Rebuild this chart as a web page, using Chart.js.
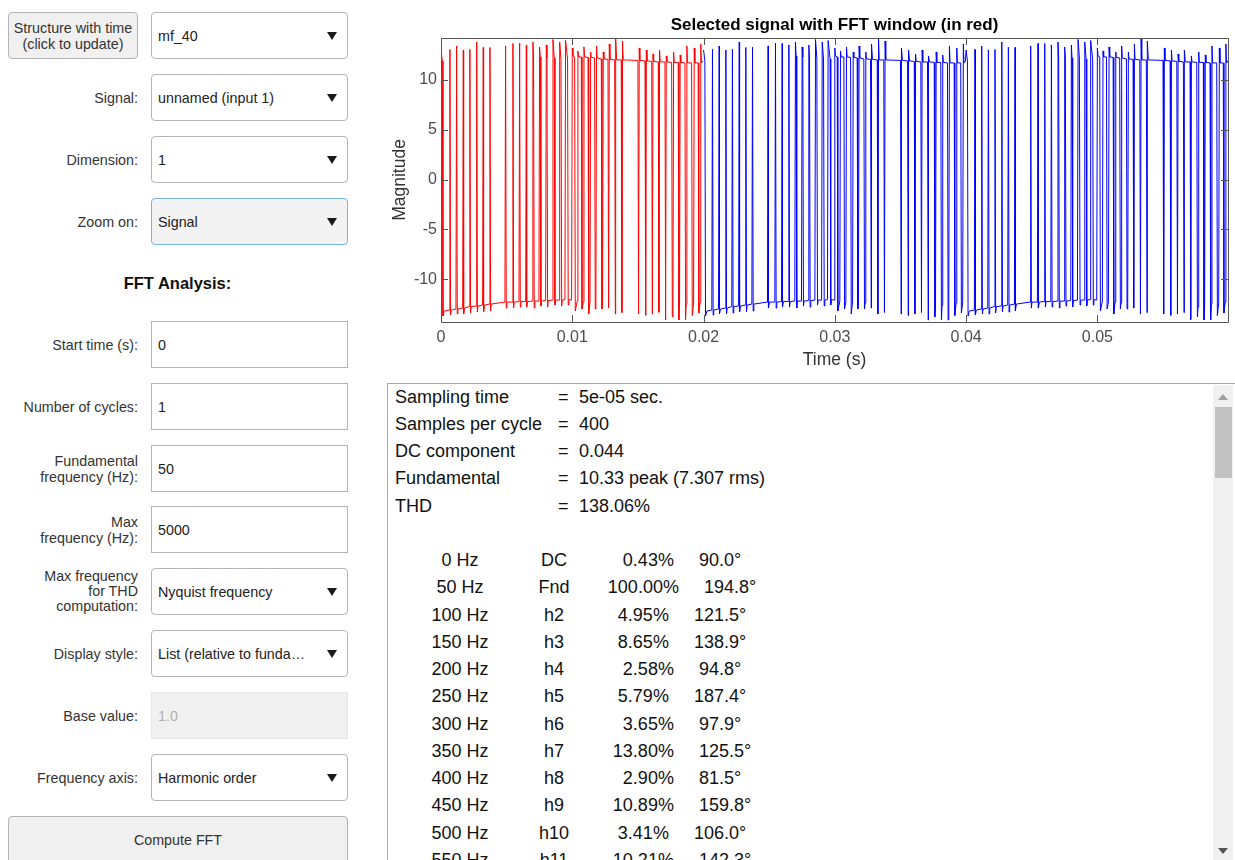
<!DOCTYPE html>
<html>
<head>
<meta charset="utf-8">
<script src="https://cdn.jsdelivr.net/npm/chart.js@4.4.1/dist/chart.umd.min.js"></script>
<style>
    body { margin: 0; width: 1235px; height: 860px; overflow: hidden; background: #fff;
           font-family: "Liberation Sans", Arial, sans-serif; position: relative; }
    .lbl { position: absolute; left: 0; width: 138px; height: 47px; display: flex; align-items: center;
           justify-content: flex-end; text-align: right; font-size: 14.3px; color: #333; line-height: 16px; }
    .box { position: absolute; left: 151px; width: 197px; height: 47px; box-sizing: border-box;
           border: 1px solid #b4b4b4; background: #fff; font-size: 14.3px; color: #222;
           display: flex; align-items: center; padding-left: 6px; }
    .dd { border-radius: 4px; }
    .dd::after { content: ''; position: absolute; right: 10px; top: 19px; border-left: 5px solid transparent;
                 border-right: 5px solid transparent; border-top: 8px solid #1a1a1a; }
    .btn { position: absolute; left: 8px; box-sizing: border-box; border: 1px solid #b4b4b4; border-radius: 4px;
           background: #f0f0f0; font-size: 14.3px; color: #333; text-align: center; line-height: 16px; }
    #chartBox { position: absolute; left: 380px; top: 0; width: 855px; height: 375px; }
    #out { position: absolute; left: 387px; top: 383px; width: 860px; height: 490px; box-sizing: border-box;
           border: 1px solid #a8a8a8; font-size: 18px; color: #111; }
    .row { position: absolute; height: 27px; line-height: 27px; white-space: nowrap; }
    .c { position: absolute; transform: translateX(-50%); white-space: nowrap; }
    #sb { position: absolute; left: 825px; top: 1px; width: 20px; height: 480px; background: #f0f0f0; }
    #thumb { position: absolute; left: 2px; top: 22px; width: 17px; height: 71px; background: #c2c2c2; }
</style>
</head>
<body>

<div class="btn" style="top:12px;width:130px;height:47px;padding-top:7px;">Structure with time<br>(click to update)</div>
<div class="box dd" style="top:12px;">mf_40</div>

<div class="lbl" style="top:74px;">Signal:</div>
<div class="box dd" style="top:74px;">unnamed (input 1)</div>

<div class="lbl" style="top:136px;">Dimension:</div>
<div class="box dd" style="top:136px;">1</div>

<div class="lbl" style="top:198px;">Zoom on:</div>
<div class="box dd" style="top:198px;background:#f3f3f3;border-color:#79b2e4;">Signal</div>

<div style="position:absolute;left:0;width:355px;top:274px;text-align:center;font-weight:bold;font-size:16.5px;color:#111;">FFT Analysis:</div>

<div class="lbl" style="top:321px;">Start time (s):</div>
<div class="box" style="top:321px;">0</div>

<div class="lbl" style="top:383px;">Number of cycles:</div>
<div class="box" style="top:383px;">1</div>

<div class="lbl" style="top:445px;">Fundamental<br>frequency (Hz):</div>
<div class="box" style="top:445px;">50</div>

<div class="lbl" style="top:506px;">Max<br>frequency (Hz):</div>
<div class="box" style="top:506px;">5000</div>

<div class="lbl" style="top:568px;line-height:15px;">Max frequency<br>for THD<br>computation:</div>
<div class="box dd" style="top:568px;">Nyquist frequency</div>

<div class="lbl" style="top:630px;">Display style:</div>
<div class="box dd" style="top:630px;">List (relative to funda…</div>

<div class="lbl" style="top:692px;">Base value:</div>
<div class="box" style="top:692px;background:#f0f0f0;border-color:#e6e6e6;color:#b0b0b0;">1.0</div>

<div class="lbl" style="top:754px;">Frequency axis:</div>
<div class="box dd" style="top:754px;">Harmonic order</div>

<div class="btn" style="top:816px;width:340px;height:60px;padding-top:15px;">Compute FFT</div>

<div id="chartBox"><canvas id="sigChart" width="855" height="375"></canvas></div>

<div id="out">
    <div id="sb">
        <div style="position:absolute;left:5px;top:9px;border-left:5px solid transparent;border-right:5px solid transparent;border-bottom:6px solid #a0a0a0;"></div>
        <div id="thumb"></div>
        <div style="position:absolute;left:5px;top:463px;border-left:5px solid transparent;border-right:5px solid transparent;border-top:6px solid #555;"></div>
    </div>
</div>

<script>
// x axis in seconds; one 50 Hz cycle = 20 ms, the first one is the FFT window (red)
const cycleStarts = [0, 0.02, 0.04];
const xTickVals = [0, 0.01, 0.02, 0.03, 0.04, 0.05];
const yTickVals = [-10, -5, 0, 5, 10];

// start of each cycle (ms within cycle): on the high rail, falls to the low rail
const startT = [0, 0.1, 0.15, 0.25];
const startV = [13.0, 11.9, -13.7, -13.2];

// first half cycle: narrow positive pulses riding on the low rail
const hiT    = [0.63, 1.14, 1.65, 2.15, 2.67, 3.17, 3.68, 4.87, 5.43, 5.94, 6.45, 6.95, 7.46, 7.97, 8.48, 8.99, 9.44];
const hiW    = [0.05, 0.05, 0.05, 0.05, 0.05, 0.05, 0.05, 0.05, 0.05, 0.05, 0.05, 0.1, 0.1, 0.1, 0.15, 0.15, 0.2];
const hiPeak = [13.05, 13.4, 13.0, 13.05, 13.8, 13.25, 13.25, 13.4, 13.65, 13.65, 13.5, 13.8, 13.3, 13.5, 14.05, 13.8, 13.95];
const hiTop  = [13.0, 13.3, 12.9, 13.0, 13.6, 13.2, 13.2, 13.3, 13.5, 13.5, 13.3, 12.4, 12.3, 12.2, 12.2, 12.1, 12.1];
const hiFall = [-13.6, -13.5, -13.5, -13.4, -13.3, -13.3, -13.2, -12.9, -12.9, -12.8, -12.8, -12.9, -12.7, -12.8, -12.6, -12.7, -12.6];
const loRail = [-13.1, -13.0, -12.9, -12.75, -12.7, -12.6, -12.5, -12.3, -12.3, -12.25, -12.25, -12.2, -12.2, -12.15, -12.1, -12.1, -12.05];

// switch from low rail to high rail around 10 ms
const midT = [9.95, 10.0, 10.05];
const midV = [-12.1, 13.2, 12.4];

// second half cycle: narrow negative pulses hanging from the high rail
const loT      = [10.18, 10.69, 11.2, 11.7, 12.21, 12.72, 13.23, 13.73, 15.0, 15.54, 16.05, 16.55, 17.06, 17.57, 18.07, 18.58, 19.09, 19.59];
const loW      = [0.2, 0.15, 0.15, 0.1, 0.1, 0.05, 0.05, 0.05, 0.05, 0.05, 0.05, 0.05, 0.05, 0.1, 0.1, 0.1, 0.15, 0.15];
const loDip    = [-13.2, -13.0, -13.5, -13.0, -13.0, -12.9, -13.5, -13.35, -13.5, -13.65, -13.5, -13.35, -14.1, -13.8, -14.1, -14.1, -13.65, -13.4];
const loBottom = [-12.2, -12.3, -12.3, -12.4, -12.4, -12.9, -13.5, -13.35, -13.5, -13.6, -13.5, -13.3, -14.0, -12.8, -12.6, -12.5, -12.4, -12.3];
const loRise   = [12.9, 13.3, 12.8, 13.4, 12.8, 13.6, 14.2, 13.9, 13.2, 13.0, 12.6, 13.0, 12.4, 12.8, 12.5, 13.4, 13.2, 13.6];
const hiRail   = [12.3, 12.3, 12.25, 12.2, 12.1, 12.05, 12.0, 12.0, 11.95, 11.9, 11.85, 11.8, 11.8, 11.75, 11.75, 11.7, 11.7, 11.7];

const endT = [19.95];
const endV = [11.9];

// text output of the FFT
const infoLabels = ['Sampling time', 'Samples per cycle', 'DC component', 'Fundamental', 'THD'];
const infoValues = ['5e-05 sec.', '400', '0.044', '10.33 peak (7.307 rms)', '138.06%'];
const harmFreq  = ['0 Hz', '50 Hz', '100 Hz', '150 Hz', '200 Hz', '250 Hz', '300 Hz', '350 Hz', '400 Hz', '450 Hz', '500 Hz', '550 Hz'];
const harmName  = ['DC', 'Fnd', 'h2', 'h3', 'h4', 'h5', 'h6', 'h7', 'h8', 'h9', 'h10', 'h11'];
const harmMag   = ['0.43%', '100.00%', '4.95%', '8.65%', '2.58%', '5.79%', '3.65%', '13.80%', '2.90%', '10.89%', '3.41%', '10.21%'];
const harmPhase = ['90.0°', '194.8°', '121.5°', '138.9°', '94.8°', '187.4°', '97.9°', '125.5°', '81.5°', '159.8°', '106.0°', '142.3°'];

function buildCycle(t0) {
    const pts = [];
    const add = (ms, y) => pts.push({ x: t0 + ms / 1000, y });

    startT.forEach((t, i) => add(t, startV[i]));
    hiT.forEach((t, i) => {
        add(t, loRail[i]);
        add(t + 0.05, hiPeak[i]);
        add(t + hiW[i], hiTop[i]);
        add(t + hiW[i] + 0.05, hiFall[i]);
        add(t + hiW[i] + 0.1, loRail[i]);
    });
    midT.forEach((t, i) => add(t, midV[i]));
    loT.forEach((t, i) => {
        add(t, hiRail[i]);
        add(t + 0.05, loDip[i]);
        add(t + loW[i], loBottom[i]);
        add(t + loW[i] + 0.05, loRise[i]);
        add(t + loW[i] + 0.1, hiRail[i]);
    });
    endT.forEach((t, i) => add(t, endV[i]));
    return pts;
}

const windowPts = buildCycle(cycleStarts[0]);
const restPts = cycleStarts.slice(1).flatMap(buildCycle);

// MATLAB style box with inward ticks on all four sides
const frameTicks = {
    id: 'frameTicks',
    afterDatasetsDraw(chart) {
        const { ctx, chartArea: a, scales } = chart;
        const len = 7;
        ctx.save();
        ctx.strokeStyle = '#555';
        ctx.lineWidth = 1;
        ctx.beginPath();
        ctx.rect(Math.round(a.left) + 0.5, Math.round(a.top) + 0.5,
                 Math.round(a.right - a.left), Math.round(a.bottom - a.top));
        xTickVals.forEach(v => {
            const px = Math.round(scales.x.getPixelForValue(v)) + 0.5;
            ctx.moveTo(px, a.bottom); ctx.lineTo(px, a.bottom - len);
            ctx.moveTo(px, a.top); ctx.lineTo(px, a.top + len);
        });
        yTickVals.forEach(v => {
            const py = Math.round(scales.y.getPixelForValue(v)) + 0.5;
            ctx.moveTo(a.left, py); ctx.lineTo(a.left + len, py);
            ctx.moveTo(a.right, py); ctx.lineTo(a.right - len, py);
        });
        ctx.stroke();
        ctx.restore();
    }
};

const fontFam = '"Liberation Sans", Arial, sans-serif';
const tickFont = { family: fontFam, size: 16 };

new Chart(document.getElementById('sigChart'), {
    type: 'line',
    data: {
        datasets: [
            { data: windowPts, borderColor: '#ff0000', borderWidth: 1, pointRadius: 0, tension: 0, order: 0 },
            { data: restPts, borderColor: '#0000ff', borderWidth: 1, pointRadius: 0, tension: 0, order: 1 }
        ]
    },
    options: {
        responsive: false,
        animation: false,
        layout: { padding: { left: 0, right: 7, top: 0, bottom: 0 } },
        scales: {
            x: {
                type: 'linear',
                min: 0,
                max: 0.05995,
                grid: { display: false, drawTicks: false },
                border: { display: false },
                afterBuildTicks: s => { s.ticks = xTickVals.map(v => ({ value: v })); },
                afterFit: s => { s.height = 53; },
                ticks: { font: tickFont, color: '#4d4d4d', padding: 6, maxRotation: 0,
                         callback: v => String(+v.toFixed(2)) },
                title: { display: true, text: 'Time (s)', color: '#333',
                         font: { family: fontFam, size: 17.5 },
                         padding: { top: 0, bottom: 4.5 } }
            },
            y: {
                min: -14.3,
                max: 14.2,
                grid: { display: false, drawTicks: false },
                border: { display: false },
                afterBuildTicks: s => { s.ticks = yTickVals.map(v => ({ value: v })); },
                afterFit: s => { s.width = 61; },
                ticks: { font: tickFont, color: '#4d4d4d', padding: 4 },
                title: { display: true, text: 'Magnitude', color: '#333',
                         font: { family: fontFam, size: 17.5 },
                         padding: { top: 9.5, bottom: 0 } }
            }
        },
        plugins: {
            legend: { display: false },
            tooltip: { enabled: false },
            title: {
                display: true,
                fullSize: false,
                text: 'Selected signal with FFT window (in red)',
                color: '#000',
                font: { family: fontFam, size: 17, weight: 'bold' },
                padding: { top: 14.8, bottom: 2.8 }
            }
        }
    },
    plugins: [frameTicks]
});

// fill the FFT text listing
const out = document.getElementById('out');
const rowH = 27.25;
infoLabels.forEach((lbl, i) => {
    const top = -0.5 + i * rowH;
    out.insertAdjacentHTML('beforeend',
        `<div class="row" style="top:${top}px;left:7px;">${lbl}</div>` +
        `<div class="row" style="top:${top}px;left:170px;">=</div>` +
        `<div class="row" style="top:${top}px;left:191px;">${infoValues[i]}</div>`);
});
harmFreq.forEach((f, i) => {
    const top = -0.5 + (i + 6) * rowH;
    out.insertAdjacentHTML('beforeend',
        `<div class="row" style="top:${top}px;left:0;width:820px;">` +
        `<span class="c" style="left:72px;">${f}</span>` +
        `<span class="c" style="left:166px;">${harmName[i]}</span>` +
        `<span class="c" style="left:294px;">${harmMag[i]}&nbsp;&nbsp;&nbsp;&nbsp;&nbsp;${harmPhase[i]}</span>` +
        `</div>`);
});
</script>
</body>
</html>
